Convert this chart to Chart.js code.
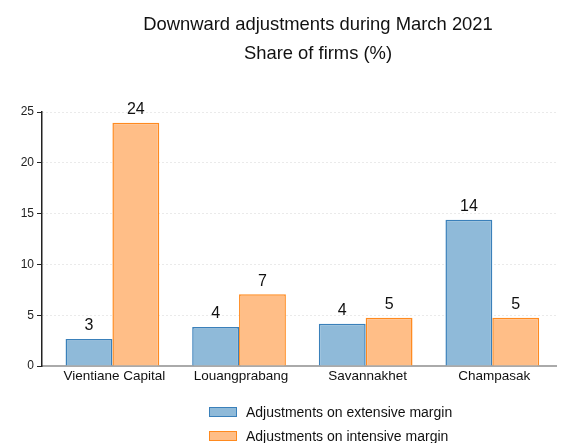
<!DOCTYPE html>
<html lang="en">
<head>
  <meta charset="UTF-8" />
  <title>Downward adjustments during March 2021</title>
  <script src="https://cdn.jsdelivr.net/npm/chart.js"></script>
  <style>
    * { box-sizing: border-box; }
    body {
      margin: 0;
      background: #fff;
      font-family: 'Liberation Sans', Arial, sans-serif;
    }
    #wrap {
      position: relative;
      width: 580px;
      height: 443px;
    }
    #title {
      position: absolute;
      left: 118px;
      width: 400px;
      top: 9px;
      text-align: center;
      font-size: 18.4px;
      line-height: 29px;
      color: #111;
    }
    #legend {
      position: absolute;
      left: 209px;
      top: 400px;
      font-size: 14px;
      color: #111;
    }
    #legend .item {
      display: flex;
      align-items: center;
      height: 24px;
    }
    #legend .box {
      width: 28px;
      height: 10px;
      margin-right: 9px;
      border: 1.5px solid;
    }
  </style>
</head>
<body>
  <div id="wrap">
    <canvas id="chart" width="580" height="443"></canvas>
    <div id="title">Downward adjustments during March 2021<br>Share of firms (%)</div>
    <div id="legend"></div>
  </div>

  <script>
    const provinces = ['Vientiane Capital', 'Louangprabang', 'Savannakhet', 'Champasak'];
    const extensive = [2.65, 3.85, 4.15, 14.4];
    const intensive = [23.95, 7.05, 4.75, 4.75];
    const seriesNames = ['Adjustments on extensive margin', 'Adjustments on intensive margin'];

    const fills = ['#8fbad9', '#ffbe87'];
    const borders = ['#3a80ba', '#ff8a1f'];

    // provinces sit at x = 0..3 on a linear axis, so the y axis can stand a little left of the first group
    const toPoints = vals => vals.map((v, i) => ({ x: i, y: v }));

    // numbers above the bars
    const barLabels = {
      id: 'barLabels',
      afterDatasetsDraw(chart) {
        const ctx = chart.ctx;
        ctx.save();
        ctx.font = '16px "Liberation Sans", Arial, sans-serif';
        ctx.fillStyle = '#111';
        ctx.textAlign = 'center';
        ctx.textBaseline = 'bottom';
        chart.data.datasets.forEach((ds, i) => {
          chart.getDatasetMeta(i).data.forEach((bar, j) => {
            ctx.fillText(Math.round(ds.data[j].y), bar.x, bar.y - 5);
          });
        });
        ctx.restore();
      }
    };

    new Chart(document.getElementById('chart'), {
      type: 'bar',
      data: {
        datasets: [
          { label: seriesNames[0], data: toPoints(extensive), backgroundColor: fills[0], borderColor: borders[0], borderWidth: 1.5 },
          { label: seriesNames[1], data: toPoints(intensive), backgroundColor: fills[1], borderColor: borders[1], borderWidth: 1.5 }
        ]
      },
      options: {
        responsive: false,
        animation: false,
        layout: { padding: { top: 112, right: 24, left: 0, bottom: 0 } },
        datasets: {
          bar: { categoryPercentage: 0.74, barPercentage: 1.0 }
        },
        plugins: {
          legend: { display: false },
          tooltip: { enabled: false }
        },
        scales: {
          x: {
            type: 'linear',
            min: -0.556,
            max: 3.503,
            offset: false,
            grid: { display: false, drawTicks: false, offset: false },
            border: { color: '#aaa', width: 2 },
            afterBuildTicks: s => { s.ticks = provinces.map((_, i) => ({ value: i })); },
            ticks: {
              color: '#111',
              padding: 2,
              labelOffset: 2,
              maxRotation: 0,
              autoSkip: false,
              callback: v => provinces[v],
              font: { family: '"Liberation Sans", Arial, sans-serif', size: 13.5 }
            },
            afterFit: s => { s.height = 77; }
          },
          y: {
            min: 0,
            max: 25,
            ticks: {
              stepSize: 5,
              color: '#222',
              padding: 3,
              font: { family: '"Liberation Sans", Arial, sans-serif', size: 12 }
            },
            grid: {
              color: '#d4d4d4',
              tickLength: 5,
              tickColor: '#222',
              tickBorderDash: []
            },
            // in v4 border.dash styles the grid lines; the axis line itself stays solid
            border: { color: '#222', width: 1.5, dash: [1, 3] },
            afterFit: s => { s.width = 42; }
          }
        }
      },
      plugins: [barLabels]
    });

    const legend = document.getElementById('legend');
    seriesNames.forEach((name, i) => {
      const item = document.createElement('div');
      item.className = 'item';
      item.innerHTML = `<span class="box" style="background:${fills[i]};border-color:${borders[i]}"></span>${name}`;
      legend.appendChild(item);
    });
  </script>
</body>
</html>
